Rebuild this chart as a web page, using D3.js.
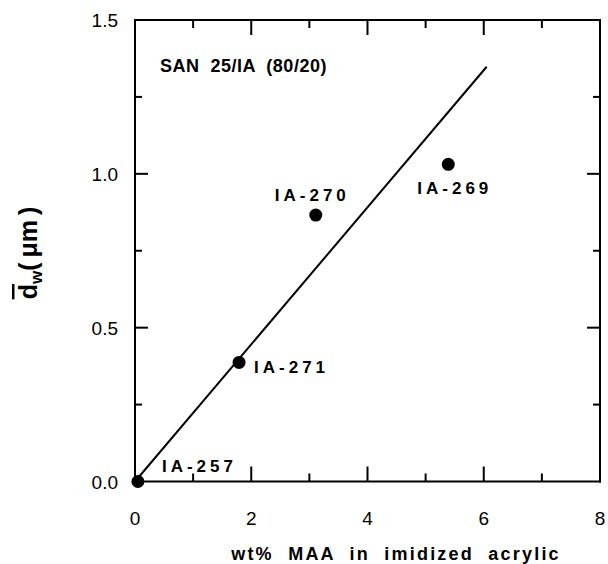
<!DOCTYPE html>
<html>
<head>
<meta charset="utf-8">
<script src="https://cdn.jsdelivr.net/npm/d3@7/dist/d3.min.js"></script>
<style>
  html, body { margin: 0; padding: 0; background: #fff; }
  svg { display: block; }
  text { font-family: "Liberation Sans", Arial, sans-serif; fill: #000; }
</style>
</head>
<body>
<svg id="chart" width="608" height="564"></svg>
<script>
// ---- data ----
const samples = ["IA-257", "IA-271", "IA-270", "IA-269"];
const maaWt = [0.05, 1.79, 3.11, 5.39];
const dw = [0.0, 0.387, 0.866, 1.031];
const fitX = [0, 6.05];
const fitY = [0, 1.348];
const xTickLabels = [0, 2, 4, 6, 8];
const yTickLabels = [0.0, 0.5, 1.0, 1.5];
const xMinorTicks = [1, 2, 3, 4, 5, 6, 7];
const yMinorTicks = [0.25, 0.5, 0.75, 1.0, 1.25];
const title = "SAN  25/IA  (80/20)";
const xTitle = "wt%  MAA  in  imidized  acrylic";

// ---- layout ----
const L = 135, R = 600, T = 20, B = 481.5;
const svg = d3.select("#chart");
const x = d3.scaleLinear().domain([0, 8]).range([L, R]);
const y = d3.scaleLinear().domain([0, 1.5]).range([B, T]);

const isMajorX = v => v % 2 === 0;
const isMajorY = v => Math.abs((v * 2) - Math.round(v * 2)) < 1e-9;

// frame: four explicit edges
const edges = [[L, T, R, T], [R, T, R, B], [R, B, L, B], [L, B, L, T]];
svg.append("g").selectAll("line").data(edges).join("line")
  .attr("x1", d => d[0]).attr("y1", d => d[1]).attr("x2", d => d[2]).attr("y2", d => d[3])
  .attr("stroke", "#000").attr("stroke-width", 2).attr("stroke-linecap", "square");

// inward ticks
const tickData = [];
xMinorTicks.forEach(v => {
  const len = isMajorX(v) ? 15 : 8;
  tickData.push([x(v), B, x(v), B - len]);
  tickData.push([x(v), T, x(v), T + len]);
});
yMinorTicks.forEach(v => {
  const len = isMajorY(v) ? 13 : 7;
  tickData.push([L, y(v), L + len, y(v)]);
  tickData.push([R, y(v), R - len, y(v)]);
});
svg.append("g").selectAll("line").data(tickData).join("line")
  .attr("x1", d => d[0]).attr("y1", d => d[1]).attr("x2", d => d[2]).attr("y2", d => d[3])
  .attr("stroke", "#000").attr("stroke-width", 2);

// tick labels
svg.append("g").selectAll("text").data(xTickLabels).join("text")
  .attr("x", d => x(d)).attr("y", 525)
  .attr("text-anchor", "middle").attr("font-size", 19)
  .text(d => d);
svg.append("g").selectAll("text").data(yTickLabels).join("text")
  .attr("x", 118).attr("y", d => y(d) + 7)
  .attr("text-anchor", "end").attr("font-size", 19)
  .text(d => d.toFixed(1));

// fit line
svg.append("line")
  .attr("x1", x(fitX[0])).attr("y1", y(fitY[0]))
  .attr("x2", x(fitX[1])).attr("y2", y(fitY[1]))
  .attr("stroke", "#000").attr("stroke-width", 2);

// points
svg.append("g").selectAll("ellipse").data(maaWt).join("ellipse")
  .attr("cx", (d, i) => x(d)).attr("cy", (d, i) => y(dw[i]))
  .attr("rx", 6.5).attr("ry", 6.5).attr("fill", "#000");

// point labels
const labelOffset = [[24, -9.5], [15, 11], [-41, -14], [-31, 30]];
svg.append("g").selectAll("text").data(samples).join("text")
  .attr("x", (d, i) => x(maaWt[i]) + labelOffset[i][0])
  .attr("y", (d, i) => y(dw[i]) + labelOffset[i][1])
  .attr("font-size", 17).attr("font-weight", "bold")
  .attr("letter-spacing", 4)
  .text(d => d);

// title in plot
svg.append("text").attr("x", 160).attr("y", 72)
  .attr("font-size", 18).attr("font-weight", "bold")
  .attr("letter-spacing", 0.5)
  .style("white-space", "pre")
  .text(title);

// x axis title
svg.append("text").attr("x", 396).attr("y", 560)
  .attr("text-anchor", "middle").attr("font-size", 18).attr("font-weight", "bold")
  .attr("letter-spacing", 2.2)
  .style("white-space", "pre")
  .text(xTitle);

// y axis title: d̄w(μm), rotated
const yt = svg.append("text")
  .attr("transform", "translate(37,253) rotate(-90)")
  .attr("text-anchor", "middle").attr("font-size", 25).attr("font-weight", "bold")
  .style("white-space", "pre");
yt.append("tspan").style("text-decoration", "overline").text("d");
yt.append("tspan").attr("font-size", 17).attr("dy", 5).text("w");
yt.append("tspan").attr("dy", -5).text("(\u2009\u03bcm\u2009)");
</script>
</body>
</html>
